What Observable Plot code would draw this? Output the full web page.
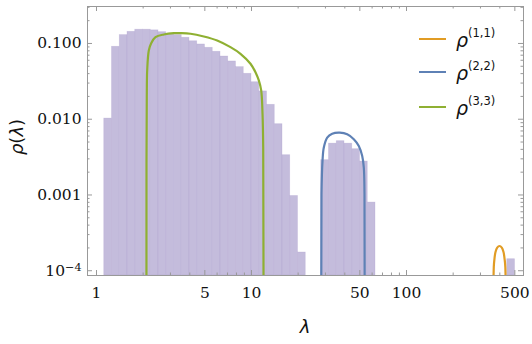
<!DOCTYPE html>
<html><head><meta charset="utf-8">
<script src="https://cdn.jsdelivr.net/npm/d3@7"></script>
<script src="https://cdn.jsdelivr.net/npm/@observablehq/plot@0.6"></script>
<style>
body{margin:0;background:#fff;}
#wrap{position:relative;width:532px;height:344px;}
.ov{position:absolute;white-space:nowrap;line-height:1;}
.lline{position:absolute;height:0;border-top:2.2px solid;width:27px;}
.ltxt{position:absolute;font-family:"DejaVu Sans";font-style:italic;font-size:19px;line-height:1;color:#111;}
.ltxt sup{font-style:normal;font-size:11.5px;position:relative;top:-3px;}
</style></head><body><div id="wrap"></div>
<script>
// histogram bins (log-spaced) and densities
const binLo = [1.122,1.259,1.413,1.585,1.778,1.995,2.239,2.512,2.818,3.162,3.548,3.981,4.467,5.012,5.623,6.310,7.079,7.943,8.913,10.00,11.22,12.59,14.13,15.85,17.78,19.95,
               28.18,31.62,35.48,39.81,44.67,50.12,56.23, 446.7];
const binHi = [1.259,1.413,1.585,1.778,1.995,2.239,2.512,2.818,3.162,3.548,3.981,4.467,5.012,5.623,6.310,7.079,7.943,8.913,10.00,11.22,12.59,14.13,15.85,17.78,19.95,22.39,
               31.62,35.48,39.81,44.67,50.12,56.23,63.10, 501.2];
const density = [0.0102,0.0904,0.129,0.1425,0.152,0.152,0.149,0.141,0.134,0.129,0.119,0.107,0.097,0.0877,0.0777,0.0673,0.0579,0.0487,0.0398,0.0308,0.0233,0.0155,0.0086,0.00335,0.00097,0.000174,
                 0.00288,0.00476,0.00513,0.00476,0.00402,0.00276,0.000794, 0.000142];

// rho^(3,3) curve
const rho33X = [2.102,2.102,2.111,2.124,2.175,2.254,2.402,2.718,3.153,3.483,4.042,4.923,6.007,7.318,8.492,9.851,10.61,11.15,11.55,11.78,11.90,11.95];
const rho33Y = [1e-6,0.00259,0.0196,0.0441,0.0809,0.1009,0.121,0.1315,0.1368,0.1368,0.1343,0.1237,0.1095,0.0894,0.0731,0.054,0.0418,0.0325,0.024,0.01183,0.00428,1e-6];
// rho^(2,2) curve
const rho22X = [28.29,28.29,28.72,29.28,30.79,33.16,37.13,41.45,45.71,49.23,51.8,53.04,53.58,53.58];
const rho22Y = [1e-6,0.001026,0.00282,0.00422,0.00571,0.00645,0.00665,0.00634,0.00545,0.00444,0.00328,0.0023,0.001026,1e-6];
// rho^(1,1) curve
const rho11X = [365.7,365.7,369.6,375.2,384.8,398.1,411.9,422.5,428.9,434.0,434.0];
const rho11Y = [1e-6,1.122e-4,1.449e-4,1.77e-4,2.02e-4,2.12e-4,2.02e-4,1.77e-4,1.449e-4,1.122e-4,1e-6];

const seriesNames = ["ρ(1,1)","ρ(2,2)","ρ(3,3)"];
const seriesColors = ["#E19C24","#5E81B5","#8FB032"];

const xTicksMajor = [1,5,10,50,100,500];
const xTickLabels = ["1","5","10","50","100","500"];
const xTicksMinor = [2,3,4,6,7,8,9,20,30,40,60,70,80,90,200,300,400];
const yTicksMajor = [0.1,0.01,0.001,0.0001];
const yTickLabels = ["0.100","0.010","0.001","10^-4"];
const yTicksMinor = [2e-4,3e-4,4e-4,5e-4,6e-4,7e-4,8e-4,9e-4,2e-3,3e-3,4e-3,5e-3,6e-3,7e-3,8e-3,9e-3,0.02,0.03,0.04,0.05,0.06,0.07,0.08,0.09,0.2,0.3];

const xDomain = [0.875, 568.6];
const yDomain = [8.65e-5, 0.3076];

const W = 532, H = 344, mL = 87, mR = 9, mT = 6, mB = 69;
const innerW = W - mL - mR, innerH = H - mT - mB;
const frameColor = "#999999";

const bars = binLo.map((lo, i) => ({lo, hi: binHi[i], v: density[i]}));
const mk = (xs, ys) => xs.map((x, i) => ({x, y: ys[i]}));
const curves = [mk(rho11X, rho11Y), mk(rho22X, rho22Y), mk(rho33X, rho33Y)];
const xLab = xTicksMajor.map((v, i) => ({v, t: xTickLabels[i]}));

const plot = Plot.plot({
  width: W, height: H,
  marginLeft: mL, marginRight: mR, marginTop: mT, marginBottom: mB,
  style: {fontFamily: "DejaVu Serif", fontSize: "15.5px", color: "#111", background: "#fff"},
  x: {type: "log", domain: xDomain, axis: null},
  y: {type: "log", domain: yDomain},
  marks: [
    Plot.rect(bars, {x1: "lo", x2: "hi", y1: yDomain[0], y2: "v", fill: "#c4bcdc", stroke: "#a89bcb", strokeOpacity: 0.35, strokeWidth: 0.7}),
    ...curves.map((c, i) => Plot.line(c, {x: "x", y: "y", stroke: seriesColors[i], strokeWidth: 2.2, curve: "catmull-rom", clip: true})),
    Plot.frame({stroke: frameColor, strokeWidth: 1}),
    // inward ticks: bottom/top
    Plot.ruleX(xTicksMajor, {x: d => d, insetTop: innerH - 5, stroke: frameColor}),
    Plot.ruleX(xTicksMinor, {x: d => d, insetTop: innerH - 2.5, stroke: frameColor}),
    Plot.ruleX(xTicksMajor, {x: d => d, insetBottom: innerH - 5, stroke: frameColor}),
    Plot.ruleX(xTicksMinor, {x: d => d, insetBottom: innerH - 2.5, stroke: frameColor}),
    // inward ticks: left/right
    Plot.ruleY(yTicksMajor, {y: d => d, insetRight: innerW - 5, stroke: frameColor}),
    Plot.ruleY(yTicksMinor, {y: d => d, insetRight: innerW - 2.5, stroke: frameColor}),
    Plot.ruleY(yTicksMajor, {y: d => d, insetLeft: innerW - 5, stroke: frameColor}),
    Plot.ruleY(yTicksMinor, {y: d => d, insetLeft: innerW - 2.5, stroke: frameColor}),
    Plot.text(xLab, {x: "v", text: "t", frameAnchor: "bottom", dy: 18, lineAnchor: "middle", fontSize: 15.5, fill: "#111"}),
    Plot.axisY({ticks: yTicksMajor, tickFormat: d => yTickLabels[yTicksMajor.indexOf(d)], tickSize: 0, tickPadding: 6, label: null, fontSize: 15.5})
  ]
});

const wrap = document.getElementById("wrap");
wrap.appendChild(plot);

// superscript exponent label
plot.querySelectorAll("text").forEach(t => {
  if (t.textContent === "10^-4") {
    const ts = t.querySelector("tspan") || t;
    ts.innerHTML = '10<tspan dy="-0.45em" font-size="0.72em">−4</tspan>';
  }
});

// axis labels
const xl = document.createElement("div");
xl.className = "ov";
xl.style.cssText = "left:305px;top:327px;transform:translate(-50%,-50%);font-family:'DejaVu Sans';font-style:italic;font-size:18px;color:#111;";
xl.textContent = "λ";
wrap.appendChild(xl);
const yl = document.createElement("div");
yl.className = "ov";
yl.style.cssText = "left:17px;top:137px;transform:translate(-50%,-50%) rotate(-90deg);font-family:'DejaVu Sans';font-size:18px;color:#111;";
yl.innerHTML = "<i>ρ</i>(<i>λ</i>)";
wrap.appendChild(yl);

// legend
const legY = [39, 72, 107];
seriesNames.forEach((name, i) => {
  const ln = document.createElement("div");
  ln.className = "lline";
  ln.style.left = "419px"; ln.style.top = (legY[i] - 1) + "px"; ln.style.borderTopColor = seriesColors[i];
  wrap.appendChild(ln);
  const tx = document.createElement("div");
  tx.className = "ltxt";
  tx.style.left = "456px"; tx.style.top = (legY[i] - 8) + "px";
  tx.innerHTML = "ρ<sup>" + name.slice(1) + "</sup>";
  wrap.appendChild(tx);
});
</script></body></html>
